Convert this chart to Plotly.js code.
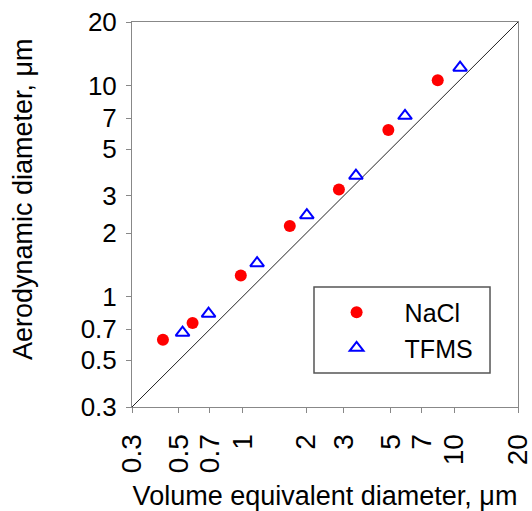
<!DOCTYPE html>
<html>
<head>
<meta charset="utf-8">
<script src="https://cdn.plot.ly/plotly-3.0.1.min.js"></script>
<style>html,body{margin:0;padding:0;background:#fff;}#chart{width:532px;height:511px;}</style>
</head>
<body>
<div id="chart"></div>
<script>
// Data
const naclX = [0.42, 0.58, 0.98, 1.67, 2.85, 4.88, 8.35];
const naclY = [0.625, 0.75, 1.26, 2.16, 3.22, 6.16, 10.6];
const tfmsX = [0.52, 0.69, 1.17, 2.01, 3.43, 5.85, 10.65];
const tfmsY = [0.675, 0.83, 1.44, 2.43, 3.74, 7.19, 12.15];
const diagX = [0.3, 20];
const diagY = [0.3, 20];
const tickVals = [0.3, 0.5, 0.7, 1, 2, 3, 5, 7, 10, 20];
const tickText = ["0.3", "0.5", "0.7", "1", "2", "3", "5", "7", "10", "20"];
const xTitle = "Volume equivalent diameter, μm";
const yTitle = "Aerodynamic diameter, μm";

const FONT = "Liberation Sans, Arial, sans-serif";

const traces = [
  {x: diagX, y: diagY, mode: "lines", line: {color: "#222", width: 1}, showlegend: false, hoverinfo: "skip"},
  {x: naclX, y: naclY, mode: "markers", name: "NaCl",
   marker: {symbol: "circle", size: 12, color: "#ff0000"}},
  {x: tfmsX, y: tfmsY, mode: "markers", name: "TFMS",
   marker: {symbol: "triangle-up-open", size: 12, color: "#0000ff", line: {width: 2, color: "#0000ff"}}}
];

const axisCommon = {
  type: "log",
  range: [Math.log10(0.3), Math.log10(20)],
  tickvals: tickVals,
  ticktext: tickText,
  ticks: "outside",
  ticklen: 5,
  tickcolor: "#888",
  tickwidth: 1,
  showline: true,
  linecolor: "#888",
  linewidth: 1,
  mirror: true,
  showgrid: false,
  zeroline: false,
  ticklabeloverflow: "allow"
};

const layout = {
  width: 532, height: 511,
  margin: {l: 132, r: 14, t: 22, b: 104},
  paper_bgcolor: "#fff", plot_bgcolor: "#fff",
  showlegend: true,
  xaxis: Object.assign({}, axisCommon, {
    tickangle: -90,
    ticklabelstandoff: 10,
    tickfont: {family: FONT, size: 28, color: "#000"},
    title: {text: xTitle, font: {family: FONT, size: 27, color: "#000"}, standoff: 16}
  }),
  yaxis: Object.assign({}, axisCommon, {
    ticklabelstandoff: 4,
    tickfont: {family: FONT, size: 26, color: "#000"}
  }),
  annotations: [{
    text: yTitle, textangle: -90, showarrow: false,
    xref: "paper", yref: "paper", x: 0, y: 0.54,
    xanchor: "center", yanchor: "middle", xshift: -109,
    font: {family: FONT, size: 27, color: "#000"}
  }],
  legend: {
    x: 0.4575, y: 0.305, xanchor: "left", yanchor: "top",
    bgcolor: "rgba(0,0,0,0)", borderwidth: 0,
    font: {family: FONT, size: 25, color: "#000"},
    itemwidth: 86
  },
  shapes: [{
    type: "rect", xref: "paper", yref: "paper",
    x0: 0.4715, x1: 0.9275, y0: 0.0883, y1: 0.3117,
    line: {color: "#555", width: 1.5}, fillcolor: "rgba(0,0,0,0)"
  }]
};

Plotly.newPlot("chart", traces, layout, {displayModeBar: false, staticPlot: true});
</script>
</body>
</html>
